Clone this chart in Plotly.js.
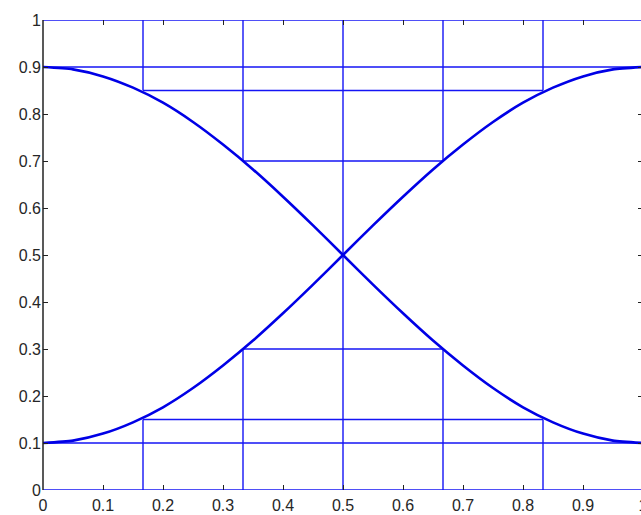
<!DOCTYPE html>
<html>
<head>
<meta charset="utf-8">
<script src="https://cdn.plot.ly/plotly-3.0.1.min.js"></script>
<style>
html,body{margin:0;padding:0;overflow:hidden;background:#fff;}
#chart{width:645px;height:515px;}
</style>
</head>
<body>
<div id="chart"></div>
<script>
// curve samples
var curveX = [0, 0.05, 0.1, 0.15, 0.2, 0.25, 0.3, 0.35, 0.4, 0.45, 0.5, 0.55, 0.6, 0.65, 0.7, 0.75, 0.8, 0.85, 0.9, 0.95, 1];
var fallingY = [0.900, 0.895, 0.880, 0.856, 0.824, 0.783, 0.735, 0.682, 0.624, 0.563, 0.500, 0.437, 0.376, 0.318, 0.265, 0.217, 0.176, 0.144, 0.120, 0.105, 0.100];
var risingY = [0.100, 0.105, 0.120, 0.144, 0.176, 0.217, 0.265, 0.318, 0.376, 0.437, 0.500, 0.563, 0.624, 0.682, 0.735, 0.783, 0.824, 0.856, 0.880, 0.895, 0.900];

// horizontal construction lines: level, from, to
var hLevel = [0, 1, 0.9, 0.1, 0.85, 0.15, 0.7, 0.3];
var hFrom  = [0, 0, 0, 0, 1/6, 1/6, 1/3, 1/3];
var hTo    = [1, 1, 1, 1, 5/6, 5/6, 2/3, 2/3];

// vertical construction lines: position, from, to
var vPos  = [1/6, 1/6, 1/3, 1/3, 0.5, 2/3, 2/3, 5/6, 5/6, 1];
var vFrom = [0.85, 0, 0.7, 0, 0, 0.7, 0, 0.85, 0, 0];
var vTo   = [1, 0.15, 1, 0.3, 1, 1, 0.3, 1, 0.15, 1];

var tickVals = [0, 0.1, 0.2, 0.3, 0.4, 0.5, 0.6, 0.7, 0.8, 0.9, 1];
var tickText = ['0', '0.1', '0.2', '0.3', '0.4', '0.5', '0.6', '0.7', '0.8', '0.9', '1'];

var gx = [], gy = [];
for (var i = 0; i < hLevel.length; i++) {
  gx.push(hFrom[i], hTo[i], null);
  gy.push(hLevel[i], hLevel[i], null);
}
for (var j = 0; j < vPos.length; j++) {
  gx.push(vPos[j], vPos[j], null);
  gy.push(vFrom[j], vTo[j], null);
}

var blue = '#1414f5';
var traces = [
  {x: gx, y: gy, mode: 'lines', line: {color: blue, width: 1.4}, hoverinfo: 'skip', cliponaxis: false},
  {x: curveX, y: fallingY, mode: 'lines', line: {color: '#0000e6', width: 2.6, shape: 'spline', smoothing: 0.6}},
  {x: curveX, y: risingY, mode: 'lines', line: {color: '#0000e6', width: 2.6, shape: 'spline', smoothing: 0.6}}
];

var axisFont = {family: 'Liberation Sans, Arial, sans-serif', size: 16, color: '#262626'};
var layout = {
  width: 645, height: 515,
  margin: {l: 43, r: 2, t: 20, b: 25},
  paper_bgcolor: '#fff', plot_bgcolor: '#fff',
  showlegend: false,
  xaxis: {range: [0, 1], tickvals: tickVals, ticktext: tickText, ticks: 'inside', ticklen: 5, tickcolor: '#222',
          mirror: 'ticks', showline: false, showgrid: false, zeroline: false, tickfont: axisFont, fixedrange: true,
          ticklabelstandoff: 4, ticklabeloverflow: 'allow'},
  yaxis: {range: [0, 1], tickvals: tickVals, ticktext: tickText, ticks: 'inside', ticklen: 5, tickcolor: '#222',
          mirror: 'ticks', showline: false, showgrid: false, zeroline: false, tickfont: axisFont, fixedrange: true,
          ticklabelstandoff: 1, ticklabeloverflow: 'allow'},
  shapes: [{type: 'line', xref: 'paper', yref: 'paper', x0: 0, x1: 0, y0: 0, y1: 1, line: {color: '#222', width: 1.5}, layer: 'above'}]
};

Plotly.newPlot('chart', traces, layout, {displayModeBar: false, staticPlot: true});
</script>
</body>
</html>
